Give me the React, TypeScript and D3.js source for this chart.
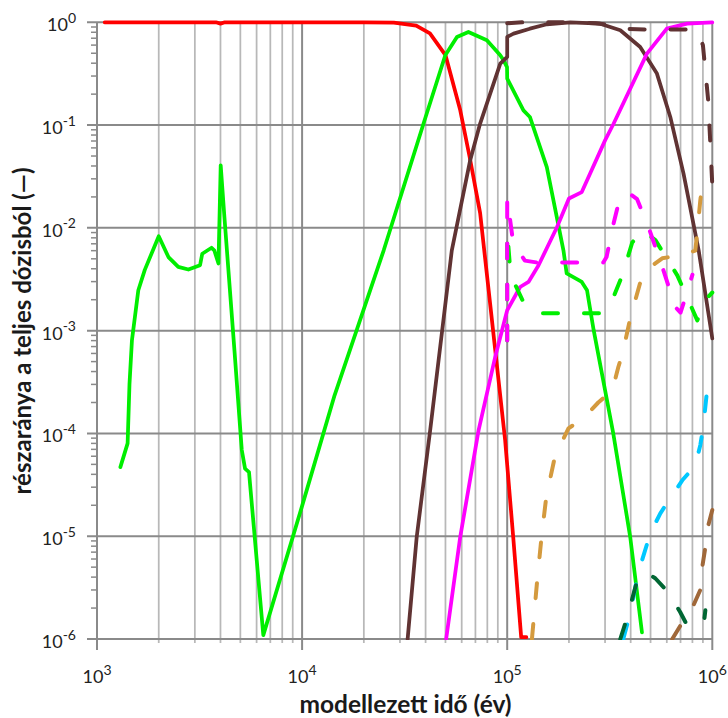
import React, { useEffect, useRef } from 'react';
import * as d3 from 'd3';

// axis decades
const xExponents = [3, 4, 5, 6];
const yExponents = [0, -1, -2, -3, -4, -5, -6];

// solid lines (time in years, fraction of total dose)
const redT = [1.09e3, 3.8e3, 4.0e3, 4.2e3, 2.0e4, 2.8e4, 3.6e4, 4.2e4, 5.0e4, 5.9e4, 6.6e4, 7.38e4, 8.45e4, 9.77e4, 1.07e5, 1.17e5, 1.24e5];
const redV = [1, 1, 0.97, 1, 1, 0.995, 0.93, 0.78, 0.48, 0.14, 0.046, 0.0139, 1.2e-3, 8.6e-5, 9.8e-6, 1.04e-6, 1.04e-6];

const greenT = [1.3e3, 1.41e3, 1.44e3, 1.48e3, 1.59e3, 1.71e3, 2.0e3, 2.23e3, 2.49e3, 2.79e3, 3.18e3, 3.26e3, 3.62e3, 3.73e3, 3.91e3, 4.01e3, 4.18e3, 4.68e3, 5.08e3, 5.27e3, 5.51e3, 6.47e3, 9.97e3, 1.44e4, 2.5e4, 3.91e4, 4.99e4, 5.69e4, 6.47e4, 7.96e4, 9.25e4, 9.6e4, 9.98e4, 1.0e5, 1.2e5, 1.29e5, 1.56e5, 1.88e5, 1.95e5, 2.31e5, 2.45e5, 2.64e5, 3.29e5, 3.98e5, 4.54e5];
const greenV = [4.7e-5, 8.0e-5, 3e-4, 8e-4, 2.47e-3, 3.9e-3, 8.3e-3, 5.2e-3, 4.17e-3, 3.93e-3, 4.33e-3, 5.6e-3, 6.4e-3, 6.05e-3, 4.5e-3, 0.0406, 0.0128, 6.4e-4, 6.9e-5, 4.55e-5, 4.2e-5, 1.09e-6, 1.93e-5, 2.35e-4, 6.05e-3, 0.1035, 0.478, 0.72, 0.805, 0.668, 0.478, 0.427, 0.367, 0.283, 0.139, 0.12, 0.039, 6.05e-3, 3.6e-3, 2.98e-3, 2.47e-3, 1.01e-3, 1.0e-4, 9.8e-6, 1.16e-6];

const brownT = [3.27e4, 3.62e4, 4.21e4, 5.37e4, 6.6e4, 7.38e4, 9.25e4, 1.0e5, 1.0e5, 1.074e5, 1.29e5, 1.56e5, 2.03e5, 2.84e5, 3.56e5, 4.45e5, 5.37e5, 6.24e5, 7.24e5, 8.58e5, 1.0e6];
const brownV = [1e-6, 9.8e-6, 1.07e-4, 6.05e-3, 0.0455, 0.1035, 0.396, 0.46, 0.72, 0.776, 0.867, 0.957, 1.0, 0.97, 0.836, 0.575, 0.317, 0.12, 0.0337, 6.05e-3, 8.4e-4];

const magentaT = [5.04e4, 5.9e4, 7.25e4, 8.73e4, 1.0e5, 1.156e5, 1.27e5, 1.42e5, 1.75e5, 2.0e5, 2.31e5, 3.0e5, 3.3e5, 4.8e5, 6.0e5, 7.53e5, 1.0e6];
const magentaV = [1e-6, 9.8e-6, 1.07e-4, 5.5e-4, 1.58e-3, 2.66e-3, 2.98e-3, 4.3e-3, 0.0102, 0.0193, 0.0223, 0.071, 0.103, 0.496, 0.867, 0.97, 1.0];

// dashed lines
const brownDashT = [1.0e5, 1.2e5, 2.0e5, 2.7e5, 3.3e5, 3.9e5, 5.0e5, 7.4e5, 8.45e5, 9.0e5, 9.56e5, 1.0e6];
const brownDashV = [0.98, 1.0, 1.0, 0.98, 0.93, 0.86, 0.85, 0.85, 0.83, 0.6, 0.17, 0.026];

const greenDashT = [1.0e5, 1.0e5, 1.04e5, 1.22e5, 1.45e5, 2.9e5, 3.25e5, 3.64e5, 4.07e5, 4.56e5, 5.28e5, 6.75e5, 8.45e5, 9.25e5, 1.0e6];
const greenDashV = [8e-4, 9.1e-3, 3.45e-3, 1.77e-3, 1.48e-3, 1.48e-3, 1.98e-3, 3.45e-3, 7.2e-3, 9.5e-3, 7.6e-3, 3.45e-3, 1.26e-3, 2.0e-3, 2.35e-3];

const magentaDashT = [1.0e5, 1.0e5, 1.07e5, 1.22e5, 1.4e5, 2.0e5, 2.94e5, 3.05e5, 3.3e5, 3.55e5, 3.9e5, 4.3e5, 4.9e5, 5.7e5, 6.6e5, 7.0e5, 7.6e5, 8.0e5];
const magentaDashV = [8e-4, 0.0194, 7.1e-3, 4.8e-3, 4.6e-3, 4.6e-3, 4.6e-3, 5.2e-3, 0.011, 0.02, 0.022, 0.019, 0.01, 4.2e-3, 1.7e-3, 1.5e-3, 2.5e-3, 3.5e-3];

const tanDashT = [1.32e5, 1.4e5, 1.47e5, 1.55e5, 1.71e5, 1.99e5, 2.35e5, 2.78e5, 3.25e5, 3.48e5, 3.68e5, 3.98e5, 4.6e5, 5.7e5, 6.98e5, 8.26e5, 8.45e5, 8.74e5, 8.9e5];
const tanDashV = [1e-6, 3.7e-6, 9.8e-6, 2.4e-5, 6e-5, 1.12e-4, 1.41e-4, 2e-4, 2.6e-4, 4.4e-4, 6.4e-4, 1.32e-3, 3.7e-3, 5.06e-3, 5.4e-3, 6e-3, 9.1e-3, 0.0185, 0.025];

const cyanDashT = [3.68e5, 3.98e5, 4.35e5, 4.99e5, 5.58e5, 6.24e5, 7.14e5, 8.27e5, 8.74e5, 9.03e5, 9.46e5, 9.57e5];
const cyanDashV = [1e-6, 1.78e-6, 4.4e-6, 1.07e-5, 1.67e-5, 2.34e-5, 3.5e-5, 4.9e-5, 7.7e-5, 1.15e-4, 2.8e-4, 3.3e-4];

const darkGreenDashT = [3.56e5, 3.85e5, 4.3e5, 4.71e5, 5.27e5, 6.1e5, 6.98e5, 7.63e5, 8.1e5, 8.8e5, 9.25e5];
const darkGreenDashV = [1e-6, 1.63e-6, 3.7e-6, 4.5e-6, 3.9e-6, 2.85e-6, 1.82e-6, 1.3e-6, 8e-7, 8e-7, 1.9e-6];

const lightBrownDashT = [6.38e5, 7.14e5, 8.07e5, 8.74e5, 8.93e5, 9.25e5, 9.56e5, 1.0e6];
const lightBrownDashV = [1e-6, 1.45e-6, 2.1e-6, 3e-6, 5e-6, 7.8e-6, 1.28e-5, 1.8e-5];

const series = [
  { t: redT, v: redV, color: '#ff0000', dashed: false },
  { t: greenT, v: greenV, color: '#00ee00', dashed: false },
  { t: brownT, v: brownV, color: '#603333', dashed: false },
  { t: magentaT, v: magentaV, color: '#ff00ff', dashed: false },
  { t: brownDashT, v: brownDashV, color: '#603333', dashed: true },
  { t: greenDashT, v: greenDashV, color: '#00ee00', dashed: true },
  { t: magentaDashT, v: magentaDashV, color: '#ff00ff', dashed: true },
  { t: tanDashT, v: tanDashV, color: '#d49a3e', dashed: true },
  { t: cyanDashT, v: cyanDashV, color: '#00c8ff', dashed: true },
  { t: darkGreenDashT, v: darkGreenDashV, color: '#006633', dashed: true },
  { t: lightBrownDashT, v: lightBrownDashV, color: '#a0683a', dashed: true },
];

const font = 'Lato, "Open Sans", sans-serif';

const App = () => {
  const ref = useRef<SVGSVGElement>(null);

  useEffect(() => {
    const left = 97, right = 712.3, top = 22.3, bottom = 639;
    const svg = d3.select(ref.current);
    svg.selectAll('*').remove();

    const x = d3.scaleLog().domain([1e3, 1e6]).range([left, right]);
    const y = d3.scaleLog().domain([1e-6, 1]).range([bottom, top]);

    const minorX: number[] = [];
    for (let e = 3; e < 6; e++) for (let k = 2; k < 10; k++) minorX.push(k * Math.pow(10, e));
    const minorY: number[] = [];
    for (let e = -6; e < 0; e++) for (let k = 2; k < 10; k++) minorY.push(k * Math.pow(10, e));
    const majorX = xExponents.map(e => Math.pow(10, e));
    const majorY = yExponents.map(e => Math.pow(10, e));

    // vertical grid
    svg.append('g').selectAll('line').data(minorX).enter().append('line')
      .attr('x1', d => x(d)).attr('x2', d => x(d))
      .attr('y1', top).attr('y2', bottom + 4)
      .attr('stroke', '#b8b8b8').attr('stroke-width', 1.75);
    svg.append('g').selectAll('line').data(majorX).enter().append('line')
      .attr('x1', d => x(d)).attr('x2', d => x(d))
      .attr('y1', top).attr('y2', bottom + 11)
      .attr('stroke', '#8a8a8a').attr('stroke-width', 2);

    // horizontal grid
    svg.append('g').selectAll('line').data(majorY).enter().append('line')
      .attr('x1', left - 10).attr('x2', right)
      .attr('y1', d => y(d)).attr('y2', d => y(d))
      .attr('stroke', '#8a8a8a').attr('stroke-width', 2);
    svg.append('g').selectAll('line').data(minorY).enter().append('line')
      .attr('x1', left - 6).attr('x2', left)
      .attr('y1', d => y(d)).attr('y2', d => y(d))
      .attr('stroke', '#8a8a8a').attr('stroke-width', 1.5);

    // clip
    svg.append('defs').append('clipPath').attr('id', 'plot-clip')
      .append('rect').attr('x', left - 3).attr('y', top - 4)
      .attr('width', right - left + 6).attr('height', bottom - top + 5);

    const line = d3.line<[number, number]>()
      .x(d => x(d[0]))
      .y(d => y(d[1]));

    const g = svg.append('g').attr('clip-path', 'url(#plot-clip)');
    series.forEach(s => {
      const pts = s.t.map((t, i) => [t, s.v[i]] as [number, number]);
      g.append('path')
        .attr('d', line(pts))
        .attr('fill', 'none')
        .attr('stroke', s.color)
        .attr('stroke-width', s.dashed ? 4 : 3.75)
        .attr('stroke-linejoin', 'round')
        .attr('stroke-linecap', 'round')
        .attr('stroke-dasharray', s.dashed ? '15 26' : null);
    });

    // y tick labels
    const yl = svg.append('g').selectAll('text').data(yExponents).enter().append('text')
      .attr('x', 76).attr('y', d => y(Math.pow(10, d)) + 9)
      .attr('text-anchor', 'end')
      .attr('font-family', font).attr('font-size', 18).attr('fill', '#222');
    yl.append('tspan').text('10');
    yl.append('tspan').attr('dy', -8.5).attr('font-size', 14).text(d => String(d));

    // x tick labels
    const xl = svg.append('g').selectAll('text').data(xExponents).enter().append('text')
      .attr('x', d => x(Math.pow(10, d)))
      .attr('y', 683)
      .attr('text-anchor', 'middle')
      .attr('font-family', font).attr('font-size', 18).attr('fill', '#222');
    xl.append('tspan').text('10');
    xl.append('tspan').attr('dy', -8.5).attr('font-size', 14).text(d => String(d));

    // axis titles
    svg.append('text')
      .attr('x', 405.5).attr('y', 713)
      .attr('text-anchor', 'middle')
      .attr('font-family', font).attr('font-weight', 'bold').attr('font-size', 24.5)
      .attr('fill', '#1a1a1a')
      .text('modellezett idő (év)');

    svg.append('text')
      .attr('transform', 'translate(31,331) rotate(-90)')
      .attr('text-anchor', 'middle')
      .attr('font-family', font).attr('font-weight', 'bold').attr('font-size', 24)
      .attr('fill', '#1a1a1a')
      .text('részaránya a teljes dózisból (—)');
  }, []);

  return (
    <svg ref={ref} width={728} height={718}
      style={{ position: 'absolute', left: 0, top: 0, background: '#fff' }} />
  );
};

export default App;
